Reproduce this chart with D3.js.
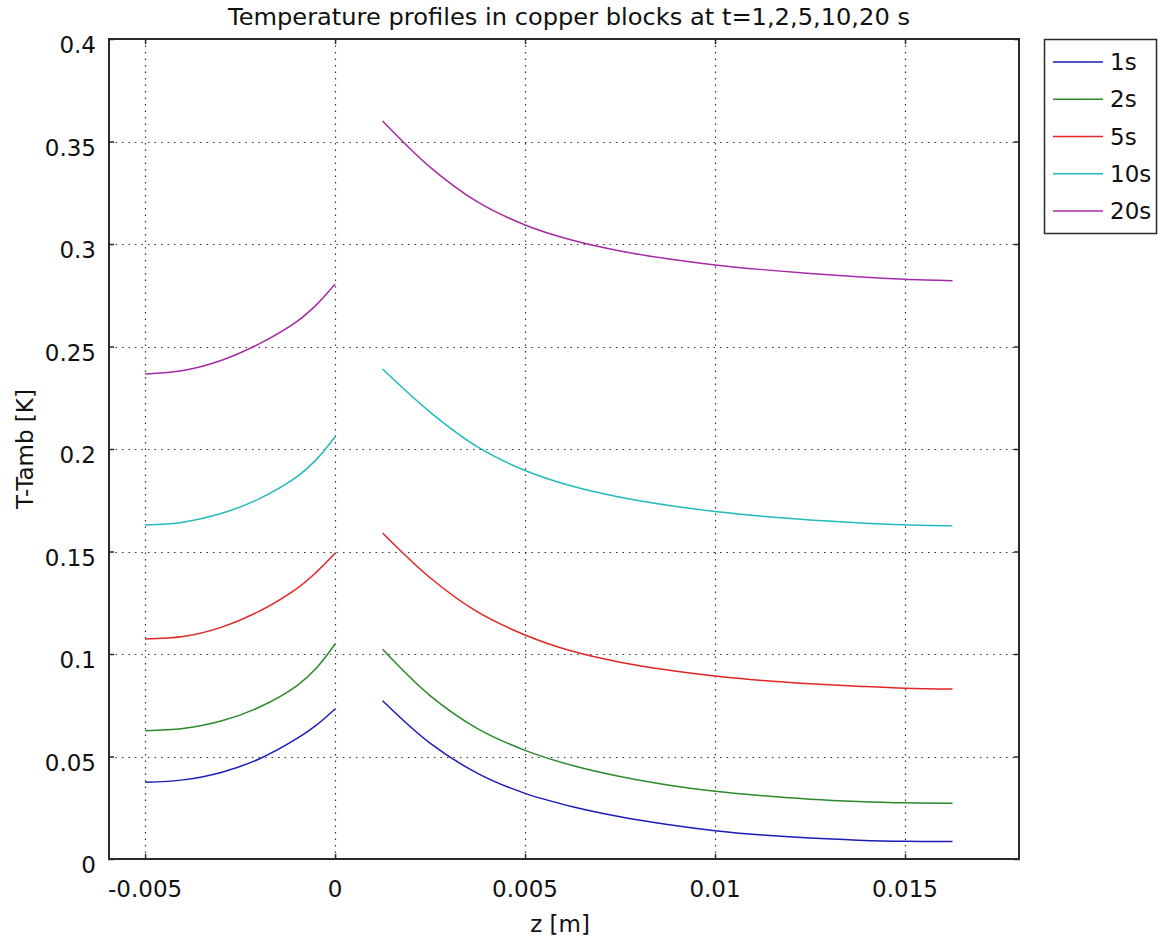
<!DOCTYPE html>
<html>
<head>
<meta charset="utf-8">
<script src="https://cdn.jsdelivr.net/npm/d3@7"></script>
<style>
  html, body { margin: 0; padding: 0; background: #fff; }
  svg { display: block; }
  text { font-family: "DejaVu Sans", Verdana, sans-serif; fill: #111; }
</style>
</head>
<body>
<svg id="chart" width="1161" height="945"></svg>
<script>
// ---- data ----
const seriesNames = ["1s", "2s", "5s", "10s", "20s"];
const seriesColors = ["#1c1cb8", "#2b8a2b", "#e02626", "#22baba", "#a52aa5"];

const zLeft = [-0.005, -0.004, -0.003, -0.002, -0.001, -0.0005, 0];
const left1s  = [0.0374, 0.0386, 0.0422, 0.0488, 0.0588, 0.0652, 0.0732];
const left2s  = [0.0626, 0.0637, 0.0673, 0.0740, 0.0846, 0.0930, 0.1049];
const left5s  = [0.1073, 0.1085, 0.1130, 0.1208, 0.1320, 0.1398, 0.1491];
const left10s = [0.1629, 0.1643, 0.1685, 0.1757, 0.1865, 0.1947, 0.2060];
const left20s = [0.2366, 0.2383, 0.2432, 0.2513, 0.2623, 0.2702, 0.2805];

const zRight = [0.00125, 0.0025, 0.00375, 0.005, 0.00625, 0.0075, 0.00875, 0.01, 0.01125, 0.0125, 0.01375, 0.015, 0.01625];
const right1s  = [0.0772, 0.0565, 0.0418, 0.0320, 0.0255, 0.0206, 0.0168, 0.0138, 0.0117, 0.0102, 0.0092, 0.0086, 0.0085];
const right2s  = [0.1023, 0.0797, 0.0636, 0.0530, 0.0456, 0.0402, 0.0361, 0.0330, 0.0308, 0.0292, 0.0281, 0.0274, 0.0272];
const right5s  = [0.1590, 0.1372, 0.1205, 0.1093, 0.1013, 0.0960, 0.0922, 0.0893, 0.0871, 0.0855, 0.0843, 0.0833, 0.0829];
const right10s = [0.2390, 0.2180, 0.2010, 0.1895, 0.1818, 0.1765, 0.1726, 0.1695, 0.1672, 0.1654, 0.1640, 0.1630, 0.1625];
const right20s = [0.3600, 0.3375, 0.3205, 0.3093, 0.3018, 0.2966, 0.2928, 0.2898, 0.2875, 0.2856, 0.2840, 0.2828, 0.2821];

const xTicks = [-0.005, 0, 0.005, 0.01, 0.015];
const xTickLabels = ["-0.005", "0", "0.005", "0.01", "0.015"];
const yTicks = [0, 0.05, 0.1, 0.15, 0.2, 0.25, 0.3, 0.35, 0.4];
const yTickLabels = ["0", "0.05", "0.1", "0.15", "0.2", "0.25", "0.3", "0.35", "0.4"];

const titleText = "Temperature profiles in copper blocks at t=1,2,5,10,20 s";
const xLabel = "z [m]";
const yLabel = "T-Tamb [K]";

// ---- layout ----
const plot = { left: 109, right: 1019, top: 39, bottom: 859 };
const svg = d3.select("#chart");

const x = d3.scaleLinear().domain([-0.00595, 0.018]).range([plot.left, plot.right]);
const y = d3.scaleLinear().domain([0, 0.4]).range([plot.bottom, plot.top]);

// grid
const grid = svg.append("g");
grid.selectAll("line.gx").data(xTicks).join("line")
  .attr("x1", d => Math.round(x(d)) + 0.5).attr("x2", d => Math.round(x(d)) + 0.5)
  .attr("y1", plot.top).attr("y2", plot.bottom)
  .attr("stroke", "#333").attr("stroke-width", 1.2).attr("stroke-dasharray", "1.5,5");
grid.selectAll("line.gy").data(yTicks).join("line")
  .attr("y1", d => Math.round(y(d)) + 0.5).attr("y2", d => Math.round(y(d)) + 0.5)
  .attr("x1", plot.left).attr("x2", plot.right)
  .attr("stroke", "#333").attr("stroke-width", 1.2).attr("stroke-dasharray", "1.5,5");

// curves
const leftSets = [left1s, left2s, left5s, left10s, left20s];
const rightSets = [right1s, right2s, right5s, right10s, right20s];
const line = d3.line().x(d => x(d[0])).y(d => y(d[1])).curve(d3.curveCatmullRom.alpha(0.5));
const curves = svg.append("g");
seriesNames.forEach((name, i) => {
  const lp = zLeft.map((z, j) => [z, leftSets[i][j]]);
  const rp = zRight.map((z, j) => [z, rightSets[i][j]]);
  [lp, rp].forEach(pts => {
    curves.append("path").attr("d", line(pts))
      .attr("fill", "none").attr("stroke", seriesColors[i]).attr("stroke-width", 1.5);
  });
});

// frame
svg.append("rect")
  .attr("x", plot.left).attr("y", plot.top)
  .attr("width", plot.right - plot.left).attr("height", plot.bottom - plot.top)
  .attr("fill", "none").attr("stroke", "#2a2a2a").attr("stroke-width", 2);

// inward ticks (all four sides) using axis generators
const tickLen = 5;
svg.append("g").attr("transform", `translate(0,${plot.bottom})`)
  .call(d3.axisTop(x).tickValues(xTicks).tickSize(tickLen).tickFormat(""))
  .call(g => g.select(".domain").remove());
svg.append("g").attr("transform", `translate(0,${plot.top})`)
  .call(d3.axisBottom(x).tickValues(xTicks).tickSize(tickLen).tickFormat(""))
  .call(g => g.select(".domain").remove());
svg.append("g").attr("transform", `translate(${plot.left},0)`)
  .call(d3.axisRight(y).tickValues(yTicks).tickSize(tickLen).tickFormat(""))
  .call(g => g.select(".domain").remove());
svg.append("g").attr("transform", `translate(${plot.right},0)`)
  .call(d3.axisLeft(y).tickValues(yTicks).tickSize(tickLen).tickFormat(""))
  .call(g => g.select(".domain").remove());
svg.selectAll(".tick line").attr("stroke", "#2a2a2a").attr("stroke-width", 1.5);

// tick labels
svg.append("g").selectAll("text").data(xTicks).join("text")
  .attr("x", d => x(d)).attr("y", 897)
  .attr("text-anchor", "middle").attr("font-size", 23)
  .text((d, i) => xTickLabels[i]);
svg.append("g").selectAll("text").data(yTicks).join("text")
  .attr("x", 96).attr("y", d => y(d) + 14)
  .attr("text-anchor", "end").attr("font-size", 23)
  .text((d, i) => yTickLabels[i]);

// title & axis labels
svg.append("text").attr("x", 569).attr("y", 25).attr("text-anchor", "middle")
  .attr("font-size", 23).attr("textLength", 682).attr("lengthAdjust", "spacingAndGlyphs")
  .text(titleText);
svg.append("text").attr("x", 560).attr("y", 932).attr("text-anchor", "middle")
  .attr("font-size", 23).text(xLabel);
svg.append("text").attr("transform", "translate(33,449) rotate(-90)")
  .attr("text-anchor", "middle").attr("font-size", 23).text(yLabel);

// legend
const lg = svg.append("g");
lg.append("rect").attr("x", 1044.5).attr("y", 39.5).attr("width", 112).attr("height", 194)
  .attr("fill", "#fff").attr("stroke", "#2a2a2a").attr("stroke-width", 1.5);
const legY = d3.scalePoint().domain(seriesNames).range([62, 211]);
seriesNames.forEach((name, i) => {
  lg.append("line").attr("x1", 1053).attr("x2", 1103)
    .attr("y1", legY(name)).attr("y2", legY(name))
    .attr("stroke", seriesColors[i]).attr("stroke-width", 1.5);
  lg.append("text").attr("x", 1110).attr("y", legY(name) + 8)
    .attr("font-size", 23).text(name);
});
</script>
</body>
</html>
